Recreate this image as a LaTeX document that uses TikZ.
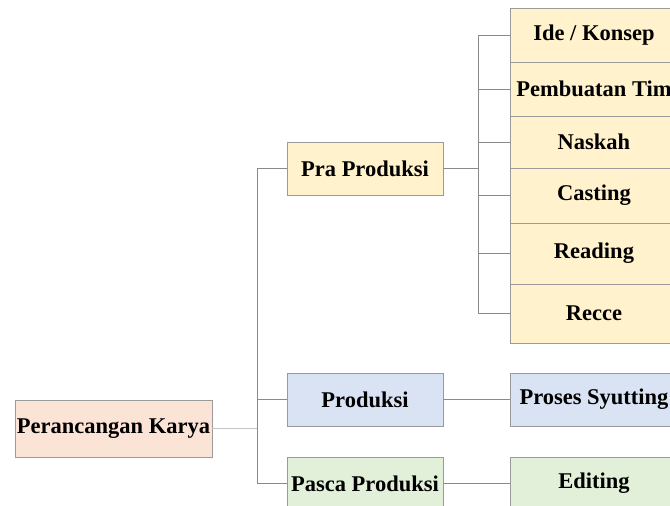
\documentclass[tikz,border=0pt]{standalone}
\usepackage{fontspec}
\setmainfont{Liberation Serif}
\definecolor{cpeach}{HTML}{FBE3D6}
\definecolor{cyellow}{HTML}{FFF2CC}
\definecolor{cblue}{HTML}{DAE3F3}
\definecolor{cgreen}{HTML}{E2F0D9}
\definecolor{cborder}{HTML}{9A9A9A}
\definecolor{cline}{HTML}{8A8A8A}
\begin{document}
\begin{tikzpicture}[x=1pt,y=-1pt,
  box/.style={draw=cborder,line width=0.8pt,inner sep=0pt,outer sep=0pt,
    font=\fontsize{22.5}{25}\selectfont\bfseries,text=black},
  conn/.style={draw=cline,line width=0.8pt}]
\useasboundingbox (0,0) rectangle (670,506);
\clip (0,0) rectangle (670,506);
% root
\node[box,fill=cpeach,minimum width=197pt,minimum height=57pt] (root) at (113.5,428.5) {Perancangan Karya};
% level 1
\node[box,fill=cyellow,minimum width=156pt,minimum height=53pt] (pra) at (365,168.5) {Pra Produksi};
\node[box,fill=cblue,minimum width=156pt,minimum height=53pt] (prod) at (365,399.5) {Produksi};
\node[box,fill=cgreen,minimum width=156pt,minimum height=53pt] (pasca) at (365,483.5) {Pasca Produksi};
% level 2
\node[box,fill=cyellow,minimum width=168pt,minimum height=54pt] (ide) at (594,35) {Ide / Konsep};
\node[box,fill=cyellow,minimum width=168pt,minimum height=54pt] (tim) at (594,89) {Pembuatan Tim};
\node[box,fill=cyellow,minimum width=168pt,minimum height=52pt] (naskah) at (594,142) {Naskah};
\node[box,fill=cyellow,minimum width=168pt,minimum height=55pt] (casting) at (594,195.5) {Casting};
\node[box,fill=cyellow,minimum width=168pt,minimum height=61pt] (reading) at (594,253.5) {Reading};
\node[box,fill=cyellow,minimum width=168pt,minimum height=59pt] (recce) at (594,313.5) {Recce};
\node[box,fill=cblue,minimum width=168pt,minimum height=53pt] (syut) at (594,399.5) {Proses Syutting};
\node[box,fill=cgreen,minimum width=168pt,minimum height=53pt] (edit) at (594,483.5) {Editing};
% trunk coordinates
\coordinate (t1) at (257,0);
\coordinate (t2) at (478,0);
% root to level 1
\draw[conn,draw=cline!50] (root.east) -- (root.east -| t1);
\draw[conn] (pra.west -| t1) -- (pasca.west -| t1);
\draw[conn] (pra.west -| t1) -- (pra.west);
\draw[conn] (prod.west -| t1) -- (prod.west);
\draw[conn] (pasca.west -| t1) -- (pasca.west);
% pra to children
\draw[conn] (pra.east) -- (pra.east -| t2);
\draw[conn] (ide.west -| t2) -- (recce.west -| t2);
\foreach \n in {ide,tim,naskah,casting,reading,recce}
  \draw[conn] (\n.west -| t2) -- (\n.west);
% others
\draw[conn] (prod.east) -- (syut.west);
\draw[conn] (pasca.east) -- (edit.west);
\end{tikzpicture}
\end{document}
